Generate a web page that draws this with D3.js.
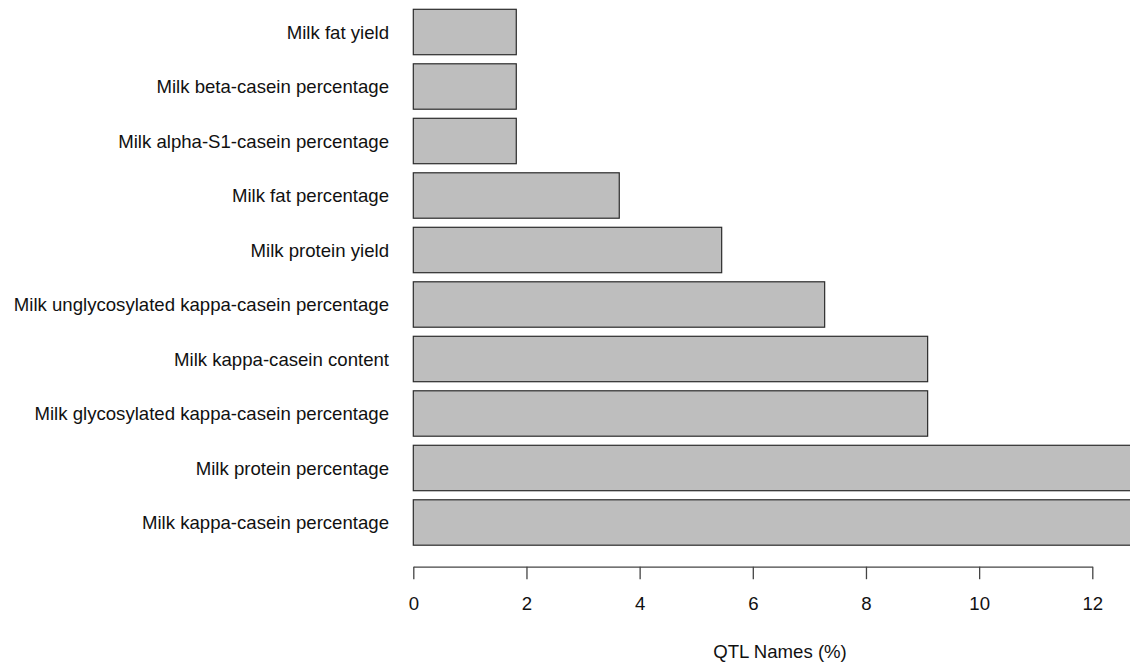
<!DOCTYPE html>
<html>
<head>
<meta charset="utf-8">
<script src="https://cdn.jsdelivr.net/npm/d3@7"></script>
<style>
  html, body { margin: 0; padding: 0; background: #fff; }
  svg text { font-family: "Liberation Sans", Arial, Helvetica, sans-serif; fill: #111; }
</style>
</head>
<body>
<svg id="chart" width="1130" height="668"></svg>
<script>
// QTL trait names, listed top to bottom
const categories = [
  "Milk fat yield",
  "Milk beta-casein percentage",
  "Milk alpha-S1-casein percentage",
  "Milk fat percentage",
  "Milk protein yield",
  "Milk unglycosylated kappa-casein percentage",
  "Milk kappa-casein content",
  "Milk glycosylated kappa-casein percentage",
  "Milk protein percentage",
  "Milk kappa-casein percentage"
];
// Share of QTL per trait (%)
const percentages = [1.82, 1.82, 1.82, 3.64, 5.45, 7.27, 9.09, 9.09, 12.73, 12.73];
const xTicks = [0, 2, 4, 6, 8, 10, 12];
const xTitle = "QTL Names (%)";

const svg = d3.select("#chart");
const fontSize = 18.6;

const x = d3.scaleLinear().domain([0, 12]).range([413.3, 1092.3]);
const y = d3.scaleBand()
  .domain(categories)
  .range([9.3, 545.2])
  .paddingInner(0.2 / 1.2)
  .paddingOuter(0);

// bars
svg.append("g")
  .selectAll("rect")
  .data(categories)
  .join("rect")
  .attr("x", x(0))
  .attr("y", d => y(d))
  .attr("width", (d, i) => x(percentages[i]) - x(0))
  .attr("height", y.bandwidth())
  .attr("fill", "#bebebe")
  .attr("stroke", "#2b2b2b")
  .attr("stroke-width", 1.2);

// category labels
svg.append("g")
  .selectAll("text")
  .data(categories)
  .join("text")
  .attr("x", 389)
  .attr("y", d => y(d) + y.bandwidth() / 2)
  .attr("dy", "0.35em")
  .attr("text-anchor", "end")
  .style("font-size", fontSize + "px")
  .text(d => d);

// bottom axis
const axis = svg.append("g")
  .attr("transform", "translate(0,566.7)")
  .call(d3.axisBottom(x).tickValues(xTicks).tickFormat(d3.format("d"))
    .tickSize(12.5).tickSizeOuter(0).tickPadding(18));
axis.select(".domain").attr("stroke", "#444").attr("stroke-width", 1.3);
axis.selectAll(".tick line").attr("stroke", "#444").attr("stroke-width", 1.3);
axis.selectAll(".tick text")
  .style("font-size", fontSize + "px")
  .style("font-family", "'Liberation Sans', Arial, sans-serif")
  .attr("fill", "#111");

// axis title
svg.append("text")
  .attr("x", 780)
  .attr("y", 658)
  .attr("text-anchor", "middle")
  .style("font-size", fontSize + "px")
  .text(xTitle);
</script>
</body>
</html>
